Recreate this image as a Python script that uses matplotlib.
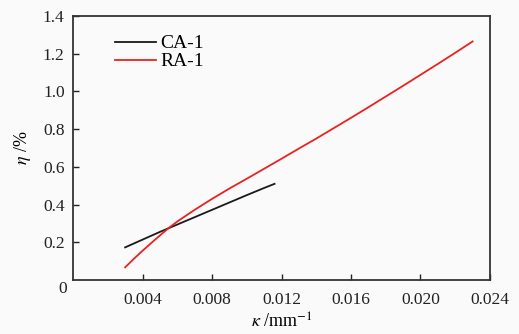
import numpy as np
import matplotlib.pyplot as plt

plt.rcParams['font.family'] = ['Liberation Serif', 'DejaVu Serif']
plt.rcParams['mathtext.fontset'] = 'stix'

# CA-1 (black)
ca_x = [0.0030, 0.0040, 0.0050, 0.0060, 0.0070, 0.0080, 0.0090,
        0.0100, 0.0110, 0.0116]
ca_y = [0.173, 0.214, 0.255, 0.294, 0.333, 0.372, 0.411,
        0.45, 0.488, 0.51]

# RA-1 (red)
ra_x = [0.0030, 0.0035, 0.0040, 0.0045, 0.0050, 0.0055, 0.0060, 0.0070,
        0.0080, 0.0090, 0.0100, 0.0110, 0.0120, 0.0130, 0.0140, 0.0150,
        0.0160, 0.0170, 0.0180, 0.0190, 0.0200, 0.0210, 0.0220, 0.0230]
ra_y = [0.067, 0.112, 0.155, 0.196, 0.236, 0.275, 0.31, 0.372,
        0.43, 0.485, 0.537, 0.59, 0.643, 0.697, 0.75, 0.805,
        0.86, 0.916, 0.973, 1.03, 1.088, 1.146, 1.205, 1.265]

xticks = [0.004, 0.008, 0.012, 0.016, 0.020, 0.024]
xtick_labels = ["0.004", "0.008", "0.012", "0.016", "0.020", "0.024"]
yticks = [0.2, 0.4, 0.6, 0.8, 1.0, 1.2, 1.4]
ytick_labels = ["0.2", "0.4", "0.6", "0.8", "1.0", "1.2", "1.4"]

fig = plt.figure(figsize=(5.19, 3.34), dpi=100)
fig.patch.set_facecolor('#fafafa')
ax = fig.add_axes([73 / 519, 1 - 280 / 334, (490 - 73) / 519, (280 - 16) / 334])
ax.set_facecolor('#fafafa')

ax.plot(ca_x, ca_y, color='#1a1a1a', lw=1.3, label='CA-1')
ax.plot(ra_x, ra_y, color='#e8231f', lw=1.3, label='RA-1')

ax.set_xlim(0, 0.024)
ax.set_ylim(0, 1.4)
ax.set_xticks(xticks)
ax.set_xticklabels(xtick_labels)
ax.set_yticks(yticks)
ax.set_yticklabels(ytick_labels)
ax.tick_params(direction='in', length=4, width=1, labelsize=12.5, colors='#222222', pad=6)
ax.tick_params(axis='x', pad=9)
for s in ax.spines.values():
    s.set_linewidth(1.3)
    s.set_color('#333333')

ax.text(-0.0006, -0.05, "0", fontsize=12.5, ha='center', va='center', color='#222222')

ax.set_ylabel(r"$\eta$ /%", fontsize=13, labelpad=7)
ax.set_xlabel(r"$\kappa$ /mm$^{-1}$", fontsize=13, labelpad=3)

leg = ax.legend(loc='upper left', bbox_to_anchor=(0.058, 0.995), frameon=False,
                fontsize=14, handlelength=2.1, handletextpad=0.25, labelspacing=0.02)

fig.savefig("out.png", dpi=100, facecolor=fig.get_facecolor())
